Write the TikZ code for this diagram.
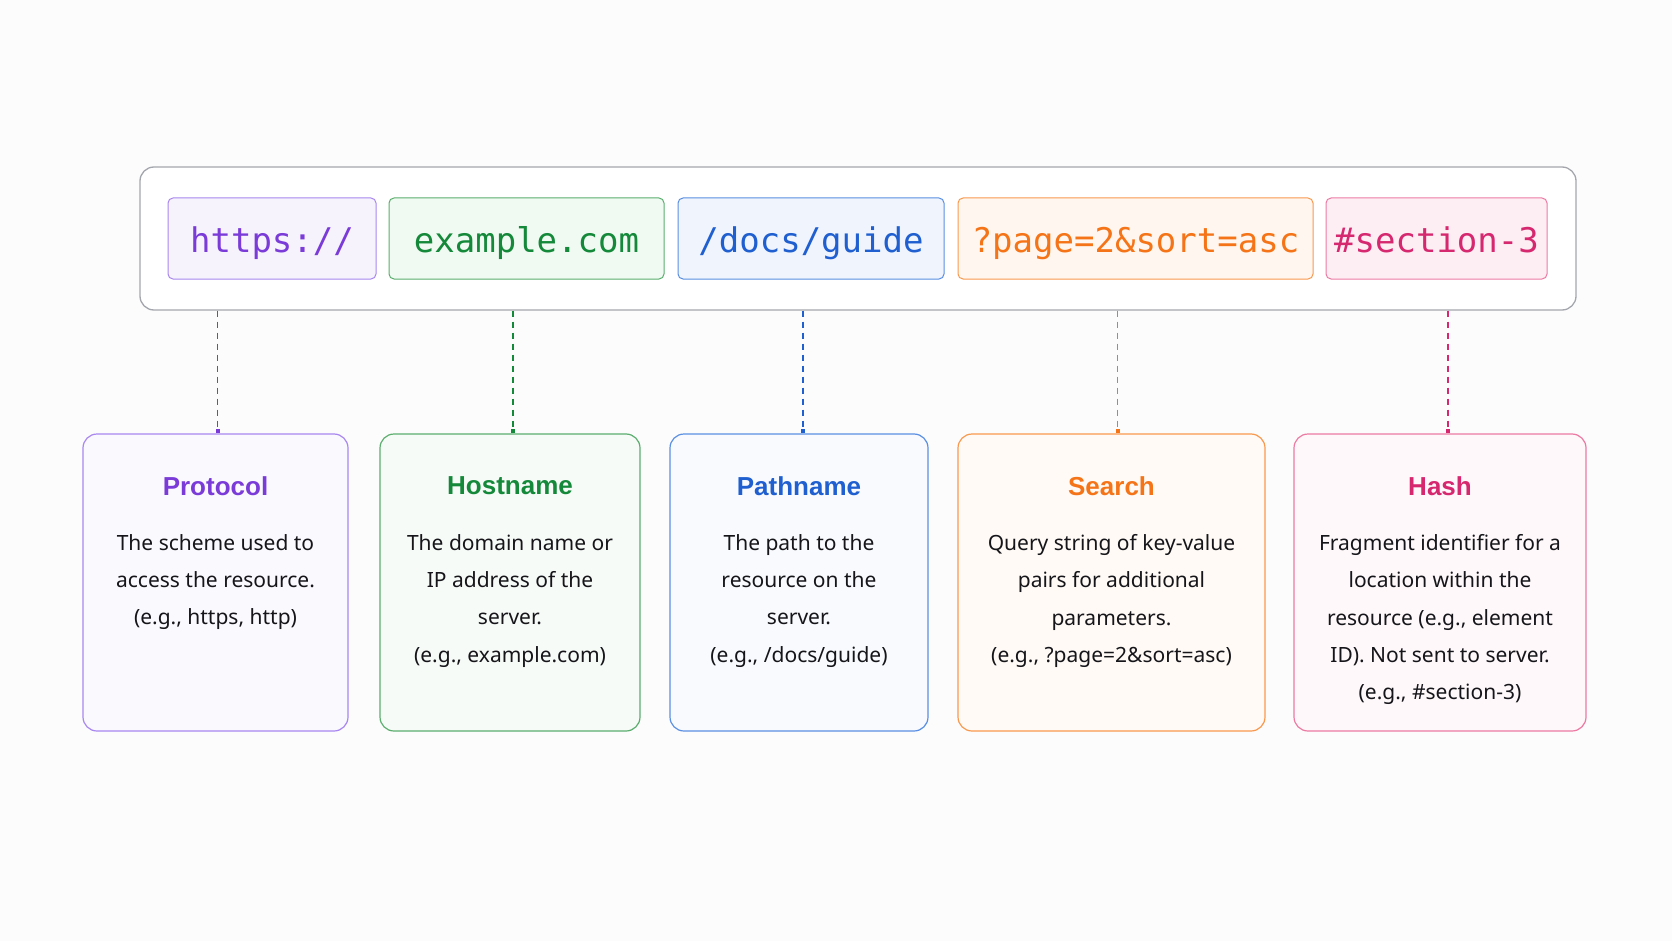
\documentclass[tikz,border=0pt]{standalone}
\usepackage{fontspec}
\setmainfont{Noto Sans}
\newfontfamily\titlef{Liberation Sans}
\newfontfamily\monof{DejaVu Sans Mono}
\usetikzlibrary{arrows.meta}
\definecolor{bg}{HTML}{FCFCFC}
\definecolor{outerc}{HTML}{A3A6AD}
\definecolor{purT}{HTML}{7A3BD8}\definecolor{purB}{HTML}{A987F0}\definecolor{purF}{HTML}{F6F3FD}\definecolor{purL}{HTML}{FAF9FE}
\definecolor{grnT}{HTML}{15893A}\definecolor{grnB}{HTML}{5BAE6E}\definecolor{grnF}{HTML}{F0FAF2}\definecolor{grnL}{HTML}{F7FBF8}
\definecolor{bluT}{HTML}{1F5FCF}\definecolor{bluB}{HTML}{5A8FE3}\definecolor{bluF}{HTML}{EFF4FD}\definecolor{bluL}{HTML}{F8FAFE}
\definecolor{orgT}{HTML}{F57418}\definecolor{orgB}{HTML}{F9994E}\definecolor{orgF}{HTML}{FFF7EF}\definecolor{orgL}{HTML}{FFFAF6}
\definecolor{pnkT}{HTML}{D6286F}\definecolor{pnkB}{HTML}{EC7AA3}\definecolor{pnkF}{HTML}{FDEEF4}\definecolor{pnkL}{HTML}{FEF8FA}
\definecolor{bodyc}{HTML}{16161A}
\tikzset{
  seg/.style={draw=#1B, fill=#1F, text=#1T, line width=1pt, rounded corners=5pt,
    minimum height=81pt, inner sep=0pt, text height=30pt, text depth=2pt,
    font=\monof\fontsize{34}{34}\selectfont},
  card/.style={draw=#1B, fill=#1L, line width=1.2pt, rounded corners=14pt},
  ctitle/.style={text=#1T, font=\titlef\fontsize{26}{26}\selectfont\bfseries},
  cbody/.style={text=bodyc, align=center, font=\fontsize{21}{37.2}\selectfont},
  conn/.style={draw=#1T, line width=1.2pt, dash pattern=on 6pt off 5pt, -{Rectangle[length=4pt,width=4pt]}},
}
\begin{document}
\begin{tikzpicture}[x=1pt,y=-1pt]
\fill[bg] (0,0) rectangle (1672,941);
\useasboundingbox (0,0) rectangle (1672,941);
% outer URL bar
\node[draw=outerc, fill=white, line width=1.3pt, rounded corners=14pt, minimum width=1436pt, minimum height=143pt, inner sep=0pt] (bar) at (858,238.5) {};
% segments
\node[seg=pur, minimum width=208pt] (s1) at (272,238.5) {https://};
\node[seg=grn, minimum width=275pt] (s2) at (526.5,238.5) {example.com};
\node[seg=blu, minimum width=266pt] (s3) at (811,238.5) {/docs/guide};
\node[seg=org, minimum width=355pt] (s4) at (1135.5,238.5) {?page=2\&sort=asc};
\node[seg=pnk, minimum width=221pt] (s5) at (1436.5,238.5) {\#section-3};
% cards
\node[card=pur, minimum width=265pt, minimum height=297pt] (c1) at (215.5,582.5) {};
\node[card=grn, minimum width=260pt, minimum height=297pt] (c2) at (510,582.5) {};
\node[card=blu, minimum width=258pt, minimum height=297pt] (c3) at (799,582.5) {};
\node[card=org, minimum width=307pt, minimum height=297pt] (c4) at (1111.5,582.5) {};
\node[card=pnk, minimum width=292pt, minimum height=297pt] (c5) at (1440,582.5) {};
% titles
\node[ctitle=pur] (t1) at (215.5,486) {Protocol};
\node[ctitle=grn] (t2) at (510,486) {Hostname};
\node[ctitle=blu] (t3) at (799,486) {Pathname};
\node[ctitle=org] (t4) at (1111.5,486) {Search};
\node[ctitle=pnk] (t5) at (1440,486) {Hash};
% bodies
\node[cbody, anchor=north] (b1) at (215.5,531) {The scheme used to\\access the resource.\\(e.g., https, http)};
\node[cbody, anchor=north] (b2) at (510,531) {The domain name or\\IP address of the\\server.\\(e.g., example.com)};
\node[cbody, anchor=north] (b3) at (799,531) {The path to the\\resource on the\\server.\\(e.g., /docs/guide)};
\node[cbody, anchor=north] (b4) at (1111.5,531) {Query string of key-value\\pairs for additional\\parameters.\\(e.g., ?page=2\&sort=asc)};
\node[cbody, anchor=north] (b5) at (1440,531) {Fragment identifier for a\\location within the\\resource (e.g., element\\ID). Not sent to server.\\(e.g., \#section-3)};
% connectors
\coordinate (x1) at (217.5,0);
\coordinate (x2) at (513,0);
\coordinate (x3) at (803,0);
\coordinate (x4) at (1117.5,0);
\coordinate (x5) at (1448,0);
\draw[conn=pur] (bar.south -| x1) -- (c1.north -| x1);
\draw[conn=grn] (bar.south -| x2) -- (c2.north -| x2);
\draw[conn=blu] (bar.south -| x3) -- (c3.north -| x3);
\draw[conn=org] (bar.south -| x4) -- (c4.north -| x4);
\draw[conn=pnk] (bar.south -| x5) -- (c5.north -| x5);
\end{tikzpicture}
\end{document}
